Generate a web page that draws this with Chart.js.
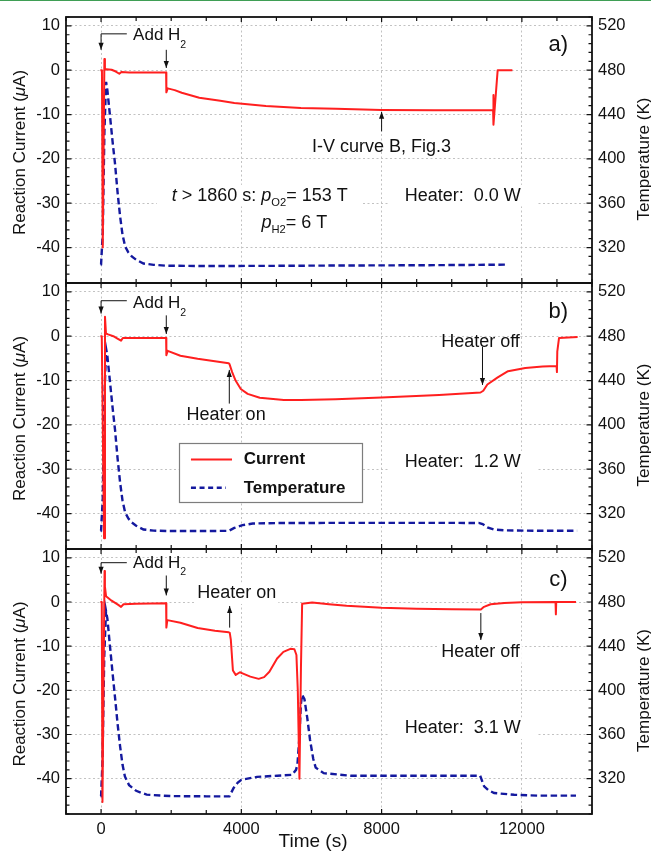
<!DOCTYPE html>
<html><head><meta charset="utf-8">
<script src="https://cdn.jsdelivr.net/npm/chart.js@4.4.1/dist/chart.umd.min.js"></script>
<style>
html,body{margin:0;padding:0;background:#fff;}
#wrap{position:relative;width:651px;height:853px;overflow:hidden;background:#fff;}
#wrap canvas{position:absolute;left:0;top:0;}
#topline{position:absolute;left:0;top:0;width:651px;height:1px;background:#3f9e55;}
</style></head><body>
<div id="wrap">
<canvas id="cA" width="651" height="853"></canvas>
<canvas id="cB" width="651" height="853"></canvas>
<canvas id="cC" width="651" height="853"></canvas>
<div id="topline"></div>
</div>
<script>
// ---------- axis ticks ----------
const timeTicks = [0, 4000, 8000, 12000];
const currentTicks = [-40, -30, -20, -10, 0, 10];
const tempTicks = [320, 360, 400, 440, 480, 520];

// ---------- panel a) ----------
const timeA = [-20, 25, 48, 95, 110, 150, 300, 420, 520, 580, 800, 1855, 1862, 1900, 2100, 2300, 2800, 3400, 3800, 4700, 5700, 6700, 8000, 9500, 11180, 11185, 11195, 11310, 11730];
const currentA = [0, 0, -40, 2.5, 0.1, 0.2, 0.1, -0.3, -0.8, -0.4, -0.5, -0.5, -5.0, -4.1, -4.5, -5.1, -6.2, -6.9, -7.4, -8.1, -8.5, -8.7, -8.95, -9.05, -9.05, -5.6, -12.3, 0, 0];
const tTimeA = [-20, 0, 48, 95, 143, 180, 257, 330, 400, 470, 543, 610, 686, 780, 876, 1000, 1210, 1500, 1876, 3000, 5000, 7000, 9000, 10500, 11600];
const tempA = [304.5, 304.8, 333, 424, 469.5, 462, 438, 415, 395, 370, 348, 332, 321, 315.5, 312, 309, 305.6, 304.4, 303.6, 303.3, 303.5, 303.8, 304, 304.3, 304.6];

// ---------- panel b) ----------
const timeB = [-20, 20, 85, 112, 140, 200, 350, 480, 570, 620, 1000, 1855, 1862, 1900, 2262, 2754, 3246, 3640, 3660, 3738, 3836, 3984, 4180, 4525, 5213, 5705, 6688, 8000, 9640, 10820, 10900, 11016, 11311, 11606, 12098, 12590, 12990, 13000, 13010, 13060, 13590];
const currentB = [0, 0, -45.6, 4.4, 0.6, 0.4, 0, -0.6, -1.0, -0.4, -0.4, -0.4, -4.3, -3.3, -4.4, -5.1, -5.65, -6.1, -6.25, -8.1, -10.0, -11.9, -13.0, -13.9, -14.4, -14.4, -14.2, -13.8, -13.25, -12.7, -12.3, -10.9, -9.3, -7.9, -7.15, -6.85, -6.7, -8.1, -3.5, -0.4, -0.2];
const tTimeB = [-20, 0, 48, 95, 143, 180, 257, 330, 400, 470, 543, 610, 686, 780, 876, 1000, 1210, 1500, 1876, 3000, 3640, 3800, 4033, 4327, 5000, 7000, 9000, 10770, 10880, 11016, 11200, 11500, 12500, 13575];
const tempB = [304.4, 304.6, 333, 424, 468.8, 462, 438, 415, 395, 370, 348, 332, 321, 315.5, 312, 309, 305.6, 304.6, 304.2, 304.2, 304.4, 307, 309.5, 311, 311.4, 311.6, 311.6, 311.5, 310.5, 307.5, 305.6, 304.8, 304.4, 304.4];

// ---------- panel c) ----------
const timeC = [-20, 20, 40, 100, 110, 143, 300, 480, 570, 640, 1000, 1855, 1862, 1890, 2262, 2754, 3246, 3640, 3670, 3700, 3760, 3840, 3960, 4050, 4257, 4495, 4650, 4800, 5020, 5200, 5400, 5514, 5571, 5610, 5657, 5700, 5734, 5850, 6020, 6500, 7000, 8000, 9000, 10000, 10830, 10920, 11110, 11500, 12000, 12960, 12970, 12980, 13545];
const currentC = [0, 0, -45.3, 7.0, 3.5, 1.3, 0.3, -0.6, -1.1, -0.5, -0.4, -0.3, -5.8, -4.1, -4.7, -5.9, -6.5, -6.85, -7.0, -8.5, -15.5, -16.5, -15.9, -16.2, -16.9, -17.4, -17.0, -15.8, -12.8, -11.3, -10.6, -10.7, -12.0, -20, -40, -15, -0.4, -0.3, -0.1, -0.5, -0.85, -1.3, -1.55, -1.65, -1.7, -1.1, -0.5, -0.2, -0.05, 0, -2.8, 0, 0];
const tTimeC = [-20, 0, 40, 90, 140, 180, 260, 330, 400, 470, 540, 610, 680, 800, 1000, 1300, 2000, 3000, 3660, 3780, 3900, 4000, 4448, 5020, 5448, 5560, 5600, 5650, 5700, 5734, 5800, 5880, 5960, 6050, 6120, 6350, 7114, 8000, 9490, 10810, 10924, 11050, 11210, 11780, 12500, 13543];
const tempC = [304, 304.2, 335, 430, 472, 465, 438, 415, 393, 370, 350, 333, 322, 314, 309, 305.5, 304.2, 304, 304, 311.6, 316.5, 319, 321.6, 322.7, 323.5, 328, 333, 355, 388, 396, 392, 375, 355, 338, 330, 325, 322.7, 322.7, 322.7, 322.7, 313, 309.5, 307, 305.4, 304.6, 304.6];

const panelLabels = ['a)', 'b)', 'c)'];
const heaterLabels = ['Heater:  0.0 W', 'Heater:  1.2 W', 'Heater:  3.1 W'];

// ---------- styling ----------
const FONT = '"Liberation Sans", Arial, Helvetica, sans-serif';
const INK = '#111111';
const RED = '#ff1f1f';
const BLUE = '#14199e';
const GRID = '#c2c2c2';
const panels = [{top: 17, bottom: 283}, {top: 283, bottom: 549}, {top: 549, bottom: 814}];

function toXY(ts, vs) { return ts.map((t, i) => ({x: t, y: vs[i]})); }

function pt(chart, t, v) {
  return [chart.scales.x.getPixelForValue(t), chart.scales.y.getPixelForValue(v)];
}

function layoutRich(ctx, parts, size) {
  let w = 0;
  const segs = parts.map(p => {
    const s = p.sub ? size * 0.62 : size;
    const f = (p.it ? 'italic ' : '') + (p.b ? 'bold ' : '') + s + 'px ' + FONT;
    ctx.font = f;
    const sw = ctx.measureText(p.t).width;
    const seg = {t: p.t, f: f, x: w, sub: !!p.sub};
    w += sw;
    return seg;
  });
  return {segs: segs, w: w};
}

function noteGeom(chart, n) {
  const ctx = chart.ctx;
  const L = layoutRich(ctx, n.parts, n.size);
  const [px, py] = pt(chart, n.t, n.v);
  let x0 = px;
  if (n.align === 'center') x0 = px - L.w / 2;
  if (n.align === 'right') x0 = px - L.w;
  return {L: L, x0: x0, y: py};
}

function drawPoly(ctx, chart, pts) {
  const P = pts.map(p => pt(chart, p[0], p[1]));
  ctx.save();
  ctx.strokeStyle = INK; ctx.fillStyle = INK; ctx.lineWidth = 1; ctx.setLineDash([]);
  ctx.beginPath();
  ctx.moveTo(P[0][0], P[0][1]);
  for (let i = 1; i < P.length; i++) ctx.lineTo(P[i][0], P[i][1]);
  ctx.stroke();
  const a = P[P.length - 2], b = P[P.length - 1];
  const ang = Math.atan2(b[1] - a[1], b[0] - a[0]);
  const len = 7, hw = 2.6;
  ctx.beginPath();
  ctx.moveTo(b[0], b[1]);
  ctx.lineTo(b[0] - len * Math.cos(ang) + hw * Math.sin(ang), b[1] - len * Math.sin(ang) - hw * Math.cos(ang));
  ctx.lineTo(b[0] - len * Math.cos(ang) - hw * Math.sin(ang), b[1] - len * Math.sin(ang) + hw * Math.cos(ang));
  ctx.closePath();
  ctx.fill();
  ctx.restore();
}

const decorPlugin = {
  id: 'decor',
  beforeDatasetsDraw(chart, args, opts) {
    const ctx = chart.ctx;
    ctx.save();
    ctx.fillStyle = '#ffffff';
    (opts.notes || []).forEach(n => {
      if (n.kind === 'text' && n.box) {
        const g = noteGeom(chart, n);
        const h = n.size * 0.6;
        ctx.fillRect(g.x0 - n.box[0], g.y - h - n.box[1], g.L.w + 2 * n.box[0], 2 * h + 2 * n.box[1]);
      }
    });
    ctx.restore();
  },
  afterDatasetsDraw(chart, args, opts) {
    const ctx = chart.ctx;
    (opts.notes || []).forEach(n => {
      if (n.kind === 'poly') drawPoly(ctx, chart, n.pts);
      else if (n.kind === 'text') {
        const g = noteGeom(chart, n);
        ctx.save();
        ctx.fillStyle = INK; ctx.textAlign = 'left'; ctx.textBaseline = 'middle';
        g.L.segs.forEach(s => {
          ctx.font = s.f;
          ctx.fillText(s.t, g.x0 + s.x, g.y + (s.sub ? (n.subDy || 7) : 0));
        });
        ctx.restore();
      } else if (n.kind === 'legend') {
        const [x1, y1] = pt(chart, n.box[0], n.box[1]);
        const [x2, y2] = pt(chart, n.box[2], n.box[3]);
        ctx.save();
        ctx.fillStyle = '#fff';
        ctx.fillRect(x1, y1, x2 - x1, y2 - y1);
        ctx.strokeStyle = '#7d7d7d'; ctx.lineWidth = 1.2; ctx.setLineDash([]);
        ctx.strokeRect(Math.round(x1) + 0.5, Math.round(y1) + 0.5, Math.round(x2 - x1), Math.round(y2 - y1));
        n.rows.forEach(r => {
          const ds = chart.data.datasets[r.ds];
          const [sx1, sy] = pt(chart, r.t1, r.v);
          const [sx2] = pt(chart, r.t2, r.v);
          ctx.strokeStyle = ds.borderColor; ctx.lineWidth = ds.borderWidth;
          ctx.setLineDash(r.dash || []);
          ctx.beginPath(); ctx.moveTo(sx1, sy); ctx.lineTo(sx2, sy); ctx.stroke();
          ctx.setLineDash([]);
          const [tx] = pt(chart, n.textT, r.v);
          ctx.fillStyle = INK; ctx.font = 'bold ' + n.size + 'px ' + FONT;
          ctx.textAlign = 'left'; ctx.textBaseline = 'middle';
          ctx.fillText(ds.label, tx, sy);
        });
        ctx.restore();
      }
    });
  },
  afterDraw(chart, args, opts) {
    const ctx = chart.ctx;
    const {left, right, top, bottom} = chart.chartArea;
    const ys = chart.scales.y, y2 = chart.scales.y2, xs = chart.scales.x;
    ctx.save();
    ctx.strokeStyle = INK; ctx.setLineDash([]);
    ctx.lineWidth = 1.2;
    ctx.beginPath();
    for (let v = -48; v <= 12; v += 2) {
      const p = ys.getPixelForValue(v);
      const L = currentTicks.includes(v) ? 5.5 : 3.5;
      ctx.moveTo(left, p); ctx.lineTo(left + L, p);
    }
    for (let v = 288; v <= 528; v += 8) {
      const p = y2.getPixelForValue(v);
      const L = tempTicks.includes(v) ? 5.5 : 3.5;
      ctx.moveTo(right, p); ctx.lineTo(right - L, p);
    }
    for (let t = -1000; t <= 14000; t += 1000) {
      const p = xs.getPixelForValue(t);
      const L = timeTicks.includes(t) ? 5 : 4;
      ctx.moveTo(p, top); ctx.lineTo(p, top + L);
      ctx.moveTo(p, bottom); ctx.lineTo(p, bottom - L);
    }
    ctx.stroke();
    ctx.lineWidth = 1.8;
    ctx.strokeRect(left, top, right - left, bottom - top);
    // axis titles
    const cy = (top + bottom) / 2;
    ctx.fillStyle = INK; ctx.textBaseline = 'alphabetic'; ctx.textAlign = 'center';
    ctx.font = '17px ' + FONT;
    ctx.save(); ctx.translate(25, cy + 2.5); ctx.rotate(-Math.PI / 2);
    // Reaction Current (μA) with italic mu
    const p1 = 'Reaction Current (', p2 = '\u03bc', p3 = 'A)';
    ctx.font = '17px ' + FONT; const w1 = ctx.measureText(p1).width, w3 = ctx.measureText(p3).width;
    ctx.font = 'italic 17px ' + FONT; const w2 = ctx.measureText(p2).width;
    let x0 = -(w1 + w2 + w3) / 2;
    ctx.textAlign = 'left';
    ctx.font = '17px ' + FONT; ctx.fillText(p1, x0, 0);
    ctx.font = 'italic 17px ' + FONT; ctx.fillText(p2, x0 + w1, 0);
    ctx.font = '17px ' + FONT; ctx.fillText(p3, x0 + w1 + w2, 0);
    ctx.restore();
    ctx.save(); ctx.translate(648.5, cy + 9); ctx.rotate(-Math.PI / 2);
    ctx.textAlign = 'center'; ctx.font = '17px ' + FONT;
    ctx.fillText('Temperature (K)', 0, 0);
    ctx.restore();
    if (opts.bottom) {
      ctx.textAlign = 'center'; ctx.font = '19px ' + FONT;
      ctx.fillText('Time (s)', 313, 846.5);
    }
    ctx.restore();
  }
};

function addH(lineV, tipV, textV) {
  return [
    {kind: 'poly', pts: [[734, lineV], [0, lineV], [0, tipV]]},
    {kind: 'text', t: 914, v: textV, align: 'left', size: 17, parts: [{t: 'Add H'}, {t: '2', sub: 1}], subDy: 9.5}
  ];
}

const notesA = [].concat(addH(8.2, 4.6, 7.9), [
  {kind: 'poly', pts: [[1860, 4.6], [1860, 0.5]]},
  {kind: 'poly', pts: [[8000, -13.8], [8000, -9.4]]},
  {kind: 'text', t: 8000, v: -17.3, align: 'center', size: 18, parts: [{t: 'I-V curve B, Fig.3'}]},
  {kind: 'text', t: 2016, v: -28.3, align: 'left', size: 18, subDy: 7, box: [15, 0],
   parts: [{t: 't', it: 1}, {t: ' > 1860 s: '}, {t: 'p', it: 1}, {t: 'O2', sub: 1}, {t: '= 153 T'}]},
  {kind: 'text', t: 4574, v: -34.5, align: 'left', size: 18, subDy: 7,
   parts: [{t: 'p', it: 1}, {t: 'H2', sub: 1}, {t: '= 6 T'}]},
  {kind: 'text', t: 11971, v: -28.3, align: 'right', size: 18, box: [16, 0], parts: [{t: heaterLabels[0]}]},
  {kind: 'text', t: 13040, v: 5.6, align: 'center', size: 22, parts: [{t: panelLabels[0]}]}
]);

const notesB = [].concat(addH(8.0, 5.1, 7.4), [
  {kind: 'poly', pts: [[1860, 4.7], [1860, 0.5]]},
  {kind: 'poly', pts: [[3657, -15.2], [3657, -7.6]]},
  {kind: 'text', t: 3566, v: -17.8, align: 'center', size: 18, parts: [{t: 'Heater on'}]},
  {kind: 'text', t: 10820, v: -1.3, align: 'center', size: 18, parts: [{t: 'Heater off'}]},
  {kind: 'poly', pts: [[10877, -2.4], [10877, -11.0]]},
  {kind: 'legend', box: [2213, -24.1, 7426, -37.5], textT: 4066, size: 17,
   rows: [{ds: 0, v: -27.8, t1: 2563, t2: 3734}, {ds: 1, v: -34.2, t1: 2563, t2: 3560, dash: [5, 3.6]}]},
  {kind: 'text', t: 11971, v: -28.3, align: 'right', size: 18, box: [16, 0], parts: [{t: heaterLabels[1]}]},
  {kind: 'text', t: 13040, v: 5.4, align: 'center', size: 22, parts: [{t: panelLabels[1]}]}
]);

const notesC = [].concat(addH(8.9, 6.4, 8.85), [
  {kind: 'poly', pts: [[1860, 6.0], [1860, 1.5]]},
  {kind: 'text', t: 3871, v: 2.0, align: 'center', size: 18, box: [2, 0], parts: [{t: 'Heater on'}]},
  {kind: 'poly', pts: [[3667, -5.8], [3667, -0.9]]},
  {kind: 'text', t: 10820, v: -11.3, align: 'center', size: 18, box: [2, 0], parts: [{t: 'Heater off'}]},
  {kind: 'poly', pts: [[10830, -2.5], [10830, -8.6]]},
  {kind: 'text', t: 11971, v: -28.6, align: 'right', size: 18, box: [16, 0], parts: [{t: heaterLabels[2]}]},
  {kind: 'text', t: 13040, v: 5.1, align: 'center', size: 22, parts: [{t: panelLabels[2]}]}
]);

function makeChart(id, idx, cur, temp, notes) {
  const P = panels[idx];
  const isBottom = idx === 2;
  const tickFont = {family: FONT, size: 16.5};
  return new Chart(document.getElementById(id), {
    type: 'line',
    data: {datasets: [
      {label: 'Current', data: cur, yAxisID: 'y', borderColor: RED, borderWidth: 2,
       pointRadius: 0, pointHoverRadius: 0, tension: 0, borderJoinStyle: 'round'},
      {label: 'Temperature', data: temp, yAxisID: 'y2', borderColor: BLUE, borderWidth: 2.4,
       borderDash: [6.5, 3.5], pointRadius: 0, pointHoverRadius: 0, tension: 0}
    ]},
    options: {
      responsive: false, animation: false, devicePixelRatio: 1, events: [],
      layout: {padding: {top: P.top, bottom: isBottom ? 0 : 853 - P.bottom, left: 0, right: 0}},
      scales: {
        x: {type: 'linear', min: -1000, max: 14000,
            afterBuildTicks: s => { s.ticks = timeTicks.map(v => ({value: v})); },
            afterFit: s => { s.height = isBottom ? 39 : 0; },
            grid: {color: GRID, lineWidth: 1, drawTicks: false},
            border: {display: false, dash: [2, 2.5]},
            ticks: {display: isBottom, color: INK, font: tickFont, padding: 5.3, maxRotation: 0, autoSkip: false,
                    callback: v => String(v)}},
        y: {type: 'linear', position: 'left', min: -48, max: 12,
            afterBuildTicks: s => { s.ticks = currentTicks.map(v => ({value: v})); },
            afterFit: s => { s.width = 66; },
            grid: {color: GRID, lineWidth: 1, drawTicks: false},
            border: {display: false, dash: [2, 2.5]},
            ticks: {color: INK, font: tickFont, padding: 6, callback: v => String(v)}},
        y2: {type: 'linear', position: 'right', min: 288, max: 528,
            afterBuildTicks: s => { s.ticks = tempTicks.map(v => ({value: v})); },
            afterFit: s => { s.width = 59; },
            grid: {display: false, drawTicks: false},
            border: {display: false},
            ticks: {color: INK, font: tickFont, padding: 6, callback: v => String(v)}}
      },
      plugins: {
        legend: {display: false},
        tooltip: {enabled: false},
        decor: {notes: notes, bottom: isBottom}
      }
    },
    plugins: [decorPlugin]
  });
}

makeChart('cA', 0, toXY(timeA, currentA), toXY(tTimeA, tempA), notesA);
makeChart('cB', 1, toXY(timeB, currentB), toXY(tTimeB, tempB), notesB);
makeChart('cC', 2, toXY(timeC, currentC), toXY(tTimeC, tempC), notesC);
</script>
</body></html>
